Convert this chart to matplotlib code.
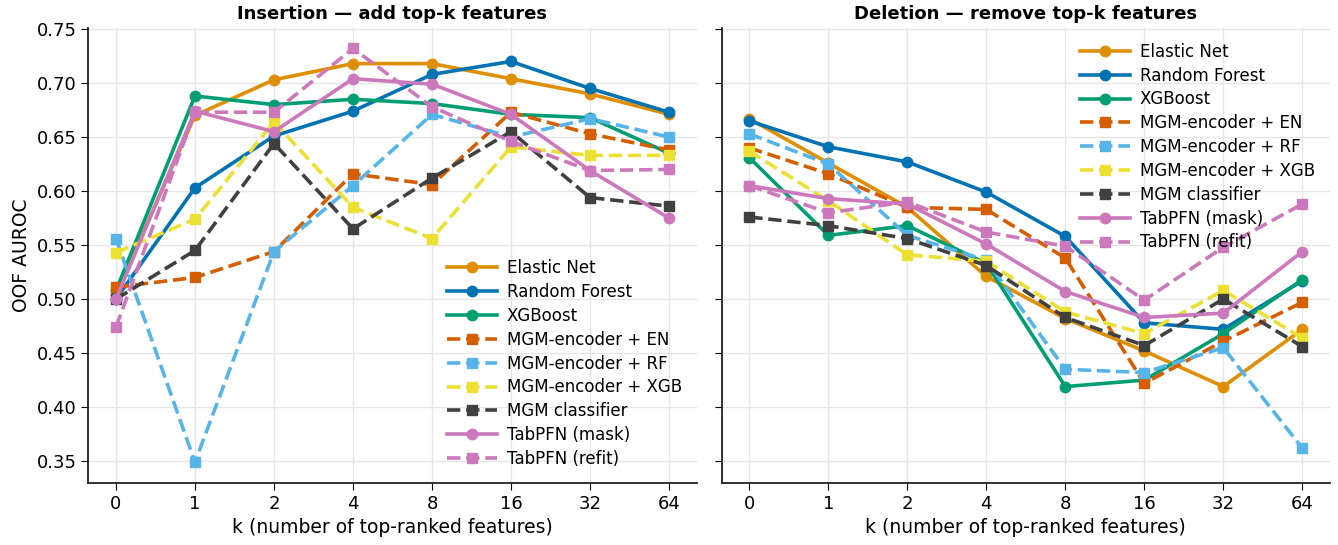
import matplotlib
matplotlib.use("Agg")
from matplotlib import pyplot as plt

k_labels = ["0", "1", "2", "4", "8", "16", "32", "64"]

methods = [
    "Elastic Net", "Random Forest", "XGBoost",
    "MGM-encoder + EN", "MGM-encoder + RF", "MGM-encoder + XGB",
    "MGM classifier", "TabPFN (mask)", "TabPFN (refit)",
]

# insertion curves (OOF AUROC at each k)
ins_en = [0.505, 0.670, 0.703, 0.718, 0.718, 0.704, 0.690, 0.671]
ins_rf = [0.500, 0.603, 0.651, 0.674, 0.708, 0.720, 0.695, 0.673]
ins_xgb = [0.508, 0.688, 0.680, 0.685, 0.681, 0.671, 0.668, 0.635]
ins_mgm_en = [0.511, 0.520, 0.544, 0.616, 0.606, 0.673, 0.653, 0.638]
ins_mgm_rf = [0.556, 0.349, 0.544, 0.605, 0.671, 0.650, 0.667, 0.650]
ins_mgm_xgb = [0.543, 0.574, 0.664, 0.585, 0.556, 0.641, 0.633, 0.633]
ins_mgm_clf = [0.500, 0.545, 0.644, 0.565, 0.612, 0.655, 0.594, 0.586]
ins_tab_mask = [0.500, 0.674, 0.655, 0.704, 0.699, 0.671, 0.619, 0.575]
ins_tab_refit = [0.474, 0.673, 0.673, 0.732, 0.678, 0.646, 0.619, 0.620]

# deletion curves
del_en = [0.667, 0.626, 0.585, 0.521, 0.482, 0.452, 0.419, 0.472]
del_rf = [0.665, 0.641, 0.627, 0.599, 0.558, 0.478, 0.472, 0.517]
del_xgb = [0.631, 0.559, 0.568, 0.533, 0.419, 0.425, 0.468, 0.518]
del_mgm_en = [0.640, 0.616, 0.585, 0.583, 0.538, 0.422, 0.461, 0.497]
del_mgm_rf = [0.653, 0.625, 0.559, 0.536, 0.435, 0.432, 0.455, 0.362]
del_mgm_xgb = [0.637, 0.591, 0.541, 0.535, 0.488, 0.468, 0.508, 0.464]
del_mgm_clf = [0.576, 0.568, 0.556, 0.531, 0.483, 0.457, 0.500, 0.456]
del_tab_mask = [0.605, 0.593, 0.588, 0.551, 0.507, 0.483, 0.487, 0.544]
del_tab_refit = [0.605, 0.580, 0.590, 0.562, 0.549, 0.499, 0.548, 0.588]

insertion = [ins_en, ins_rf, ins_xgb, ins_mgm_en, ins_mgm_rf, ins_mgm_xgb,
             ins_mgm_clf, ins_tab_mask, ins_tab_refit]
deletion = [del_en, del_rf, del_xgb, del_mgm_en, del_mgm_rf, del_mgm_xgb,
            del_mgm_clf, del_tab_mask, del_tab_refit]

colors = ["#DE8F05", "#0173B2", "#029E73", "#D55E00", "#56B4E9", "#ECE133",
          "#404040", "#CC78BC", "#CC78BC"]
styles = ["-", "-", "-", "--", "--", "--", "--", "-", "--"]
markers = ["o", "o", "o", "s", "s", "s", "s", "o", "s"]

plt.rcParams.update({
    "font.family": "DejaVu Sans",
    "font.size": 13,
    "axes.edgecolor": "#222222",
    "axes.linewidth": 1.3,
    "xtick.labelsize": 13,
    "ytick.labelsize": 13,
    "xtick.major.size": 5,
    "ytick.major.size": 5,
})

fig, axes = plt.subplots(1, 2, figsize=(13.38, 5.45), dpi=100, sharey=True)
fig.subplots_adjust(left=0.066, right=0.994, bottom=0.114, top=0.949, wspace=0.041)

x = list(range(len(k_labels)))
panels = [
    (axes[0], insertion, "Insertion \u2014 add top-k features", "lower right"),
    (axes[1], deletion, "Deletion \u2014 remove top-k features", "upper right"),
]
for ax, curves, title, loc in panels:
    for name, ys, c, ls, m in zip(methods, curves, colors, styles, markers):
        ax.plot(x, ys, color=c, linestyle=ls, marker=m, linewidth=2.6,
                markersize=7.5, label=name)
    ax.set_xticks(x)
    ax.set_xticklabels(k_labels)
    ax.set_xlabel("k (number of top-ranked features)", fontsize=13.5)
    ax.set_title(title, fontsize=13, fontweight="bold")
    ax.grid(True, color="#e6e6e6", linewidth=1.0)
    ax.set_axisbelow(True)
    ax.spines["top"].set_visible(False)
    ax.spines["right"].set_visible(False)
    ax.legend(loc=loc, frameon=False, fontsize=12, handlelength=3.0,
              handletextpad=0.6, labelspacing=0.35)

axes[0].set_ylabel("OOF AUROC", fontsize=13.5)
axes[0].set_yticks([0.35, 0.40, 0.45, 0.50, 0.55, 0.60, 0.65, 0.70, 0.75])
axes[1].tick_params(labelleft=False)

fig.savefig("out.png", dpi=100)
